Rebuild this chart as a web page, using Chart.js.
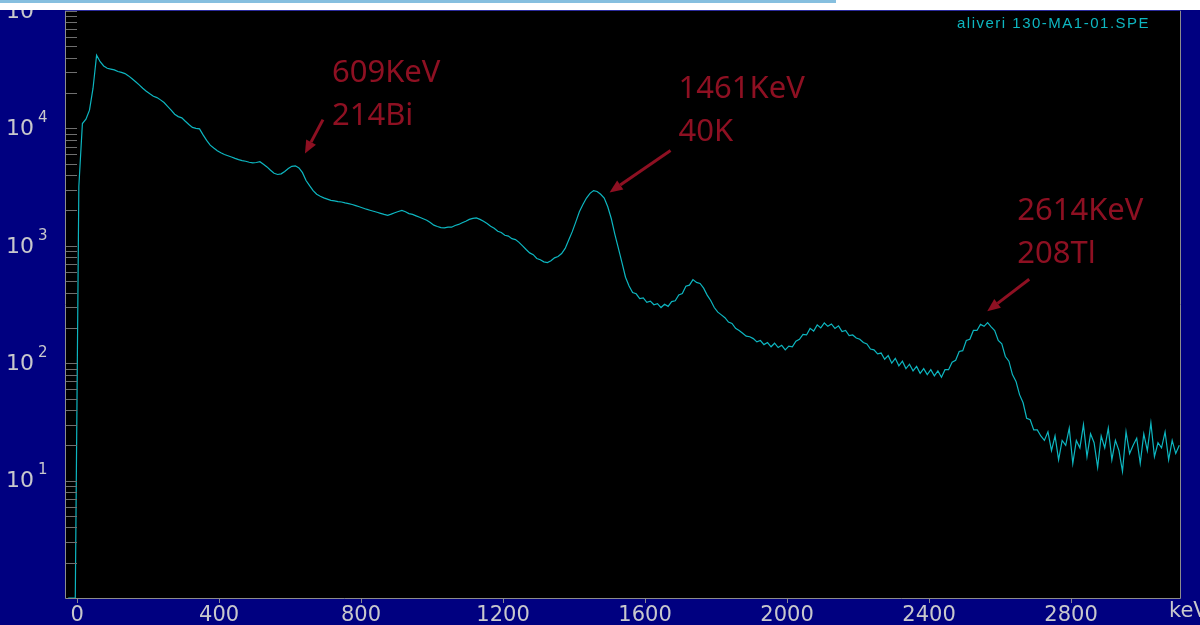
<!DOCTYPE html>
<html>
<head>
<meta charset="utf-8">
<title>aliveri 130-MA1-01.SPE</title>
<script src="https://cdn.jsdelivr.net/npm/chart.js@4.4.1/dist/chart.umd.min.js"></script>
<style>
  html, body { margin: 0; padding: 0; background: #000080; overflow: hidden; }
  #wrap { position: relative; width: 1200px; height: 625px; }
  #spec { display: block; }
  #topbar { position: absolute; left: 0; top: 0; width: 1200px; height: 10px; background: #fff; }
  #topbar div { position: absolute; left: 0; top: 0; width: 836px; height: 3px; background: #86bfdf; }
</style>
</head>
<body>
<div id="wrap">
  <canvas id="spec" width="1200" height="625"></canvas>
  <div id="topbar"><div></div></div>
</div>
<script>
// Gamma spectrum, counts per 10 keV group

const BIN_START = -30; // keV of first group
const BIN_WIDTH = 10;  // keV per group

const counts = [
  1, 1, 1,
  // 0 - 90
  3200, 11000, 12000, 14300, 22000, 42000, 37000, 34000, 32500, 32000,
  // 100 - 190
  31500, 30500, 30000, 29300, 28000, 26500, 25000, 23500, 22000, 20700,
  // 200 - 290
  19700, 18800, 18300, 17500, 16600, 15400, 14300, 13200, 12600, 12300,
  // 300 - 390
  11500, 10800, 10200, 10000, 9900, 8800, 7900, 7200, 6800, 6450,
  // 400 - 490
  6200, 6000, 5850, 5700, 5550, 5420, 5320, 5250, 5150, 5080,
  // 500 - 590
  5120, 5200, 4950, 4700, 4400, 4150, 4050, 4100, 4300, 4550,
  // 600 - 690
  4750, 4800, 4600, 4200, 3600, 3250, 2950, 2750, 2640, 2560,
  // 700 - 790
  2500, 2440, 2410, 2380, 2360, 2320, 2290, 2250, 2200, 2150,
  // 800 - 890
  2100, 2050, 2010, 1970, 1930, 1890, 1850, 1820, 1860, 1910,
  // 900 - 990
  1960, 2000, 1950, 1880, 1850, 1800, 1750, 1700, 1650, 1580,
  // 1000 - 1090
  1500, 1460, 1430, 1420, 1440, 1440, 1490, 1520, 1570, 1620,
  // 1100 - 1190
  1680, 1710, 1730, 1680, 1620, 1550, 1470, 1410, 1330, 1300,
  // 1200 - 1290
  1230, 1210, 1150, 1130, 1070, 1000, 930, 870, 840, 780,
  // 1300 - 1390
  760, 730, 720, 745, 790, 810, 860, 950, 1120, 1320,
  // 1400 - 1490
  1600, 1950, 2250, 2550, 2800, 2950, 2900, 2750, 2550, 2150,
  // 1500 - 1590
  1700, 1250, 950, 720, 540, 455, 400, 390, 355, 360,
  // 1600 - 1690
  330, 338, 315, 322, 298, 318, 305, 335, 340, 382,
  // 1700 - 1790
  392, 452, 462, 515, 488, 478, 436, 380, 342, 298,
  // 1800 - 1890
  272, 258, 244, 224, 218, 198, 190, 180, 170, 168,
  // 1900 - 1990
  162, 152, 156, 144, 150, 138, 148, 136, 142, 130,
  // 2000 - 2090
  140, 138, 154, 160, 176, 174, 198, 188, 212, 200,
  // 2100 - 2190
  220, 206, 216, 198, 208, 186, 190, 172, 174, 164,
  // 2200 - 2290
  160, 150, 146, 132, 130, 120, 122, 108, 116, 100,
  // 2300 - 2390
  110, 95, 104, 90, 98, 86, 94, 82, 90, 80,
  // 2400 - 2490
  88, 78, 86, 76, 88, 88, 102, 106, 126, 128,
  // 2500 - 2590
  156, 160, 190, 190, 214, 206, 222, 204, 190, 156,
  // 2600 - 2690
  146, 114, 104, 80, 70, 54, 46, 34, 33, 27,
  // 2700 - 2790
  27, 24, 22, 26, 18, 24, 15, 22, 20, 28,
  // 2800 - 2890
  14, 22, 19, 30, 16, 25, 21, 13, 24, 19,
  // 2900 - 2990
  28, 15, 22, 18, 12, 26, 17, 20, 23, 14,
  // 3000 - 3100
  25, 18, 31, 16, 21, 19, 26, 15, 22, 17, 20
];

const xTickValues = [0, 400, 800, 1200, 1600, 2000, 2400, 2800];
const yDecades = [1, 10, 100, 1000, 10000];
const yMultipliers = [1, 2, 3, 4, 5, 6, 7, 8, 9];
const yLabelExponents = [1, 2, 3, 4, 5];

const peakLabels = ['609KeV', '1461KeV', '2614KeV'];
const isotopeLabels = ['214Bi', '40K', '208Tl'];
const arrowTipKeV = [642, 1500, 2564];
const arrowTipCounts = [6100, 2850, 277];

const SPECTRUM_NAME = 'aliveri 130-MA1-01.SPE';

const CYAN = '#0db6c0';
const LABEL_GREY = '#c8c8cc';
const DARK_RED = '#8e1022';

// === DATA ===
// each group is plotted at its centre
const points = counts.map((c, i) => ({ x: BIN_START + (i + 0.5) * BIN_WIDTH, y: c }));

// === DECORATION PLUGIN ===
// frame, inside minor ticks, 10^n labels, peak arrows
const spectrumDecor = {
  id: 'spectrumDecor',
  beforeDraw(chart) {
    const { ctx, chartArea: a } = chart;
    ctx.save();
    ctx.fillStyle = '#000';
    ctx.fillRect(a.left, a.top, a.right - a.left, a.bottom - a.top);
    ctx.restore();
  },
  afterDraw(chart) {
    const { ctx, chartArea: a, scales } = chart;
    const x = scales.x, y = scales.y;
    ctx.save();

    // frame
    ctx.lineWidth = 1;
    ctx.strokeStyle = '#8c8c8c';
    ctx.beginPath();
    ctx.moveTo(a.left + 0.5, a.top);
    ctx.lineTo(a.left + 0.5, a.bottom + 0.5);
    ctx.lineTo(a.right + 0.5, a.bottom + 0.5);
    ctx.lineTo(a.right + 0.5, a.top);
    ctx.stroke();
    ctx.strokeStyle = '#2b2b9c';
    ctx.beginPath();
    ctx.moveTo(a.left, a.top - 0.5);
    ctx.lineTo(a.right + 1, a.top - 0.5);
    ctx.stroke();

    // log ticks on the inside of the left edge
    ctx.strokeStyle = '#707070';
    const tickVals = [];
    yDecades.forEach(d => yMultipliers.forEach(m => tickVals.push(d * m)));
    tickVals.push(100000);
    tickVals.forEach(v => {
      const py = Math.round(y.getPixelForValue(v)) + 0.5;
      if (py < a.top || py > a.bottom) return;
      ctx.beginPath();
      ctx.moveTo(a.left + 1, py);
      ctx.lineTo(a.left + 12, py);
      ctx.stroke();
    });

    // 10^n labels
    ctx.fillStyle = LABEL_GREY;
    yLabelExponents.forEach(n => {
      const py = y.getPixelForValue(Math.pow(10, n));
      ctx.font = '22px "DejaVu Sans"';
      ctx.textAlign = 'right';
      ctx.textBaseline = 'middle';
      ctx.fillText('10', 34, py + 1);
      ctx.font = '15px "DejaVu Sans"';
      ctx.textAlign = 'left';
      ctx.fillText(String(n), 38, py - 10);
    });

    // unit at the end of the energy axis
    ctx.font = '21px "DejaVu Sans"';
    ctx.textAlign = 'left';
    ctx.textBaseline = 'middle';
    ctx.fillText('keV', 1169, 612);

    // spectrum name
    ctx.fillStyle = CYAN;
    ctx.font = '15px "Liberation Sans"';
    ctx.letterSpacing = '1.5px';
    ctx.textBaseline = 'alphabetic';
    ctx.fillText(SPECTRUM_NAME, 957, 28);
    ctx.letterSpacing = '0px';

    // peak annotations: arrow tail and text offset from the tip
    const offsets = [
      { tail: [18, -34], text: [27, -72] },
      { tail: [61, -42], text: [69, -94] },
      { tail: [42, -32], text: [30, -91] }
    ];
    ctx.fillStyle = DARK_RED;
    ctx.strokeStyle = DARK_RED;
    ctx.font = '31px "Noto Sans"';
    ctx.textAlign = 'left';
    peakLabels.forEach((label, i) => {
      const tx = x.getPixelForValue(arrowTipKeV[i]);
      const ty = y.getPixelForValue(arrowTipCounts[i]);
      const o = offsets[i];
      const sx = tx + o.tail[0], sy = ty + o.tail[1];
      const ang = Math.atan2(ty - sy, tx - sx);
      const head = 13, half = 5.5;
      const bx = tx - head * Math.cos(ang), by = ty - head * Math.sin(ang);
      ctx.lineWidth = 3;
      ctx.beginPath();
      ctx.moveTo(sx, sy);
      ctx.lineTo(bx, by);
      ctx.stroke();
      ctx.beginPath();
      ctx.moveTo(tx, ty);
      ctx.lineTo(bx + half * Math.sin(ang), by - half * Math.cos(ang));
      ctx.lineTo(bx - half * Math.sin(ang), by + half * Math.cos(ang));
      ctx.closePath();
      ctx.fill();

      ctx.fillText(label, tx + o.text[0], ty + o.text[1]);
      ctx.fillText(isotopeLabels[i], tx + o.text[0], ty + o.text[1] + 43);
    });

    ctx.restore();
  }
};

// === CHART ===
const ctx = document.getElementById('spec').getContext('2d');
new Chart(ctx, {
  type: 'line',
  data: {
    datasets: [{
      data: points,
      borderColor: CYAN,
      borderWidth: 1.2,
      tension: 0,
      pointRadius: 0,
      fill: false
    }]
  },
  options: {
    responsive: false,
    animation: false,
    events: [],
    layout: { padding: { top: 11, right: 20, left: 0, bottom: 0 } },
    plugins: {
      legend: { display: false },
      tooltip: { enabled: false },
      title: { display: false }
    },
    scales: {
      x: {
        type: 'linear',
        min: -34,
        max: 3107,
        afterBuildTicks: scale => { scale.ticks = xTickValues.map(v => ({ value: v })); },
        afterFit: scale => { scale.height = 27; },
        ticks: {
          color: LABEL_GREY,
          font: { family: 'DejaVu Sans', size: 21 },
          padding: 0,
          maxRotation: 0,
          autoSkip: false,
          callback: v => String(v)
        },
        grid: { drawOnChartArea: false, drawTicks: true, tickLength: 5, color: '#8c8c8c' },
        border: { display: false }
      },
      y: {
        type: 'logarithmic',
        min: 1,
        max: 100000,
        afterFit: scale => { scale.width = 65; },
        ticks: { display: false },
        grid: { display: false },
        border: { display: false }
      }
    }
  },
  plugins: [spectrumDecor]
});
</script>
</body>
</html>
